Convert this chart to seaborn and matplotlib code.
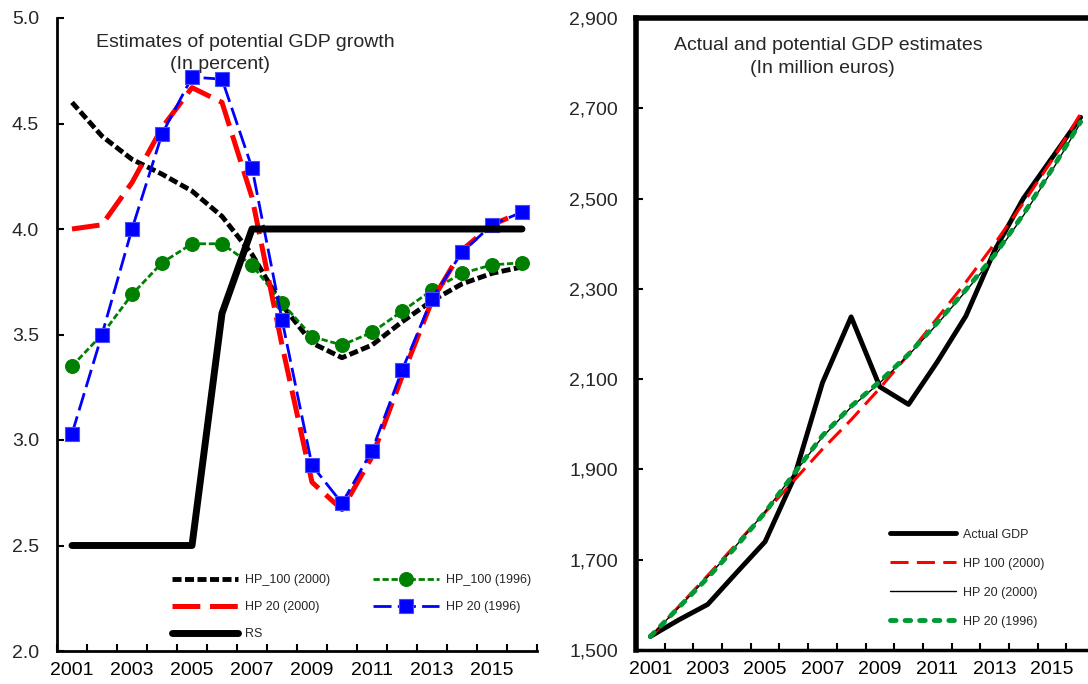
import numpy as np
import pandas as pd
import matplotlib.pyplot as plt
import matplotlib.ticker as mticker
import seaborn as sns

sns.set_theme(style="white")
plt.rcParams.update({
    "font.family":        ["Liberation Sans", "DejaVu Sans"],
    "lines.scale_dashes": False,
    "figure.facecolor":   "white",
    "axes.facecolor":     "white",
})

years = list(range(2001, 2017))

# left panel: potential growth (percent)
hp100_2000_g = [4.60, 4.44, 4.33, 4.26, 4.18, 4.06, 3.88, 3.64, 3.46, 3.39,
                3.45, 3.56, 3.66, 3.74, 3.79, 3.82]
hp100_1996_g = [3.35, 3.50, 3.69, 3.84, 3.93, 3.93, 3.83, 3.65, 3.49, 3.45,
                3.51, 3.61, 3.71, 3.79, 3.83, 3.84]
hp20_2000_g  = [4.00, 4.02, 4.22, 4.48, 4.67, 4.60, 4.15, 3.45, 2.80, 2.67,
                2.92, 3.30, 3.66, 3.90, 4.02, 4.08]
hp20_1996_g  = [3.03, 3.50, 4.00, 4.45, 4.72, 4.71, 4.29, 3.57, 2.88, 2.70,
                2.95, 3.33, 3.67, 3.89, 4.02, 4.08]
rs_g         = [2.5, 2.5, 2.5, 2.5, 2.5, 3.6, 4.0, 4.0, 4.0, 4.0,
                4.0, 4.0, 4.0, 4.0, 4.0, 4.0]

# right panel: levels (million euros)
actual_gdp   = [1530, 1567, 1601, 1671, 1740, 1880, 2092, 2238, 2083, 2044,
                2138, 2240, 2385, 2500, 2590, 2680]
hp100_2000_l = [1528, 1597, 1665, 1735, 1805, 1875, 1945, 2010, 2080, 2155,
                2235, 2315, 2400, 2490, 2585, 2688]
hp20_2000_l  = [1530, 1595, 1662, 1732, 1806, 1890, 1972, 2038, 2092, 2153,
                2222, 2295, 2372, 2462, 2562, 2668]
hp20_1996_l  = [1530, 1595, 1660, 1730, 1805, 1890, 1975, 2040, 2095, 2155,
                2225, 2298, 2375, 2465, 2565, 2670]


def draw(ax, vals, color, lw, dash=None, **kw):
    df = pd.DataFrame({"year": years, "val": vals})
    ls = (0, dash) if dash else "-"
    sns.lineplot(data=df, x="year", y="val", ax=ax, color=color,
                 linewidth=lw, linestyle=ls, legend=False, **kw)
    return ax.lines[-1]


def style_axis(ax):
    ax.set_xlim(2000.5, 2016.5)
    ax.set_xticks(range(2001, 2016, 2))
    ax.set_xticklabels([str(y) for y in range(2001, 2016, 2)])
    ax.set_xticks(np.arange(2000.5, 2017, 1), minor=True)
    ax.tick_params(axis="x", which="major", length=0, pad=8,
                   labelsize=14, colors="black")
    ax.tick_params(axis="x", which="minor", direction="in", length=5,
                   width=1.5, color="black", bottom=True)
    ax.tick_params(axis="y", direction="in", length=5, width=1.5,
                   pad=13, labelsize=14, left=True, color="black")
    ax.set_xlabel("")
    ax.set_ylabel("")


fig = plt.figure(figsize=(10.88, 6.84), dpi=100)

# ---- left panel
ax1 = fig.add_axes([57 / 1088, 33 / 684, 480 / 1088, 633 / 684])
h1 = draw(ax1, hp100_2000_g, "black", 3.5, (6.5, 2.5))
h2 = draw(ax1, hp100_1996_g, "#008000", 2.0, (4.5, 2.0),
          marker="o", markersize=10, markeredgecolor="#008000")
h3 = draw(ax1, hp20_2000_g, "#FF0000", 3.6, (20, 7))
h4 = draw(ax1, hp20_1996_g, "#0000FF", 2.0, (13, 4.5),
          marker="s", markersize=9.5, markeredgecolor="#4A4AFF",
          markeredgewidth=0.8)
h5 = draw(ax1, rs_g, "black", 5.0, solid_capstyle="round")

style_axis(ax1)
ax1.set_ylim(2.0, 5.0)
ax1.set_yticks(np.arange(2.0, 5.01, 0.5))
ax1.yaxis.set_major_formatter(mticker.FormatStrFormatter("%.1f"))
for s in ["top", "right"]:
    ax1.spines[s].set_visible(False)
for s in ["left", "bottom"]:
    ax1.spines[s].set_linewidth(2)
    ax1.spines[s].set_color("black")

ax1.text(0.392, 0.962, "Estimates of potential GDP growth", transform=ax1.transAxes,
         ha="center", va="center", fontsize=14, zorder=1)
ax1.text(0.34, 0.926, "(In percent)", transform=ax1.transAxes,
         ha="center", va="center", fontsize=14, zorder=1)

ax1.legend([h1, h3, h5, h2, h4],
           ["HP_100 (2000)", "HP 20 (2000)", "RS", "HP_100 (1996)", "HP 20 (1996)"],
           ncol=2, loc="upper left", bbox_to_anchor=(0.24, 0.121),
           frameon=False, fontsize=9, handlelength=5.3, handletextpad=0.55,
           columnspacing=3.4, labelspacing=1.2, borderpad=0, borderaxespad=0)

# ---- right panel
ax2 = fig.add_axes([636 / 1088, 34 / 684, 459 / 1088, 632 / 684])
g1 = draw(ax2, actual_gdp, "black", 3.5)
g2 = draw(ax2, hp100_2000_l, "#FF0000", 2.2, (13, 6))
g3 = draw(ax2, hp20_2000_l, "black", 1.0)
g4 = draw(ax2, hp20_1996_l, "#009933", 3.5, (4, 6.5),
          dash_capstyle="round")

style_axis(ax2)
ax2.set_ylim(1500, 2900)
ax2.set_yticks(range(1500, 2901, 200))
ax2.yaxis.set_major_formatter(mticker.StrMethodFormatter("{x:,.0f}"))
ax2.spines["right"].set_visible(False)
ax2.spines["left"].set_linewidth(4)
ax2.spines["top"].set_linewidth(4)
ax2.spines["bottom"].set_linewidth(2.5)
for s in ["left", "top", "bottom"]:
    ax2.spines[s].set_color("black")

ax2.text(0.418, 0.956, "Actual and potential GDP estimates", transform=ax2.transAxes,
         ha="center", va="center", fontsize=14, zorder=1)
ax2.text(0.405, 0.920, "(In million euros)", transform=ax2.transAxes,
         ha="center", va="center", fontsize=14, zorder=1)

ax2.legend([g1, g2, g3, g4],
           ["Actual GDP", "HP 100 (2000)", "HP 20 (2000)", "HP 20 (1996)"],
           loc="upper left", bbox_to_anchor=(0.553, 0.192),
           frameon=False, fontsize=9, handlelength=5.3, handletextpad=0.55,
           labelspacing=1.36, borderpad=0, borderaxespad=0)

fig.savefig("out.png", dpi=100)
